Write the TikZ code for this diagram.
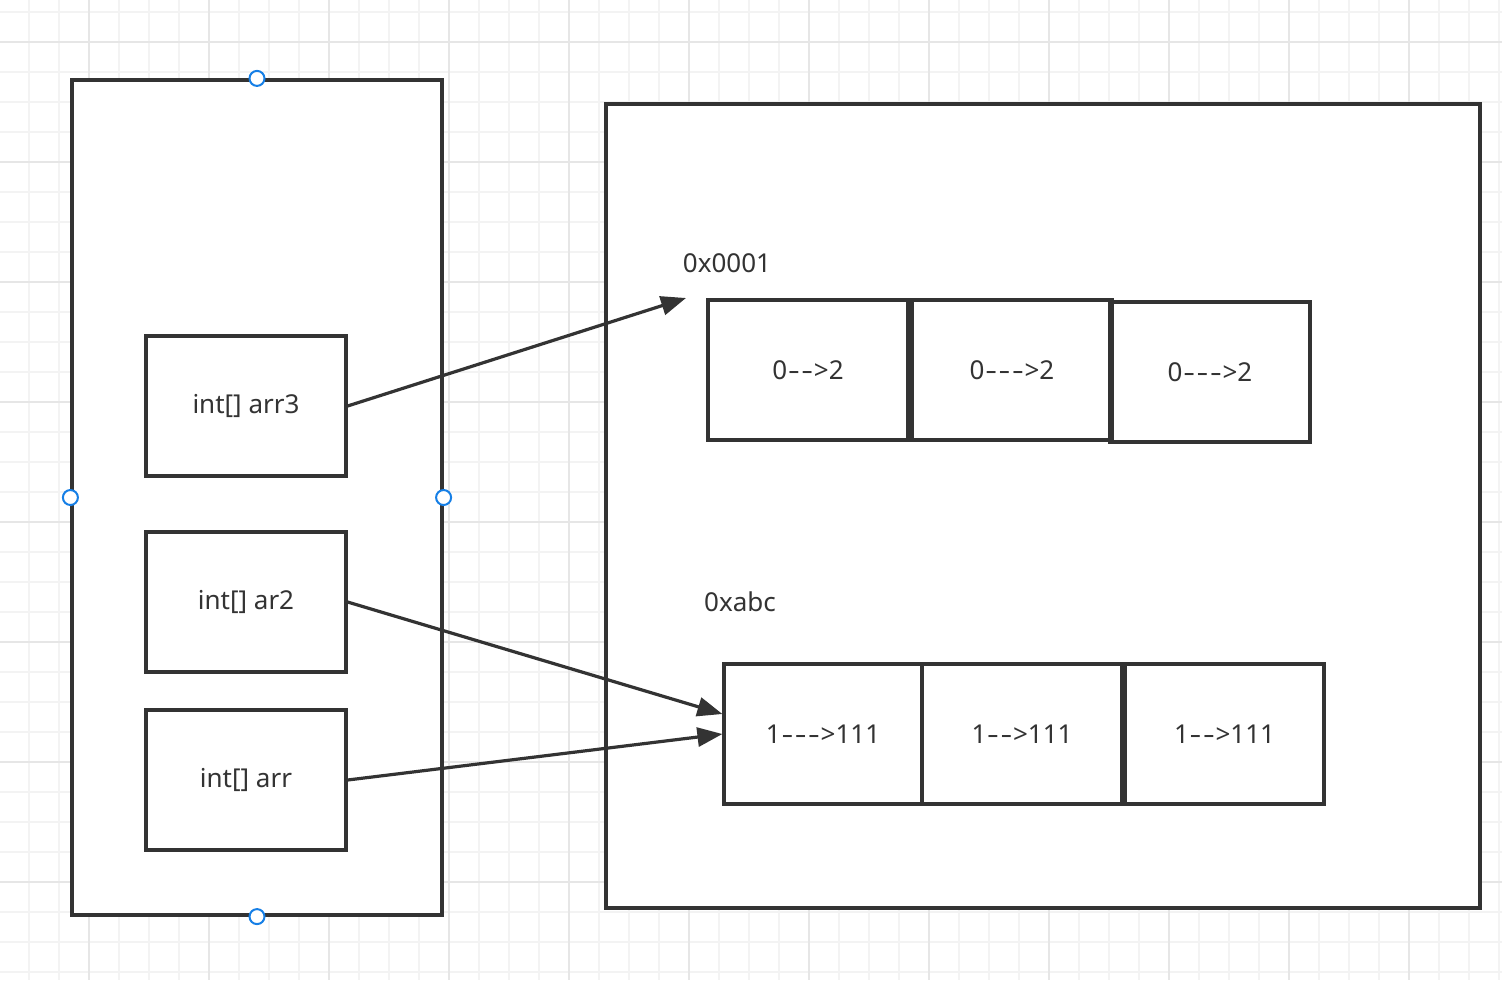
\documentclass[tikz,border=0pt]{standalone}
\usepackage{fontspec}
\setmainfont{Noto Sans}
\usetikzlibrary{arrows.meta}
\definecolor{ink}{HTML}{333333}
\definecolor{gridminor}{HTML}{F3F3F3}
\definecolor{gridmajor}{HTML}{E6E6E6}
\definecolor{handle}{RGB}{22,127,230}
\newcommand\hy{\kern0.4pt\scalebox{1.4}[1]{-}\kern0.4pt}
\tikzset{
  frame/.style={draw=ink, line width=1.6pt, inner sep=0pt, fill=white},
  cell/.style={draw=ink, line width=1.6pt, inner sep=0pt, minimum height=70pt, text=ink, font=\fontsize{13pt}{15pt}\selectfont},
  lbl/.style={inner sep=0pt, text=ink, font=\fontsize{13pt}{15pt}\selectfont},
  link/.style={draw=ink, line width=1.6pt, -{Triangle[length=12.5pt,width=9.5pt]}},
  handlept/.style={circle, draw=handle, fill=white, line width=1pt, minimum size=7.5pt, inner sep=0pt}
}
\begin{document}
\begin{tikzpicture}[x=0.5pt,y=-0.5pt]
\useasboundingbox (0,0) rectangle (1502,980);
\fill[white] (0,0) rectangle (1502,980);
% grid
\foreach \gx in {29,59,...,1500} \draw[gridminor, line width=1pt] (\gx,0) -- (\gx,980);
\foreach \gy in {12,42,...,980} \draw[gridminor, line width=1pt] (0,\gy) -- (1502,\gy);
\foreach \gx in {89,209,...,1500} \draw[gridmajor, line width=1pt] (\gx,0) -- (\gx,980);
\foreach \gy in {42,162,...,980} \draw[gridmajor, line width=1pt] (0,\gy) -- (1502,\gy);
% containers
\node[frame, minimum width=185pt, minimum height=417.5pt] (stack) at (257,497.5) {};
\node[frame, minimum width=437pt, minimum height=402pt] (heap) at (1043,506) {};
% stack cells
\node[cell, minimum width=100pt] (arr3) at (246,406) {int[] arr3};
\node[cell, minimum width=100pt] (ar2) at (246,602) {int[] ar2};
\node[cell, minimum width=100pt] (arr) at (246,780) {int[] arr};
% heap arrays
\node[lbl] (addr1) at (727,263) {0x0001};
\node[cell, minimum width=100pt] (t1) at (808,370) {0\hy\hy>2};
\node[cell, minimum width=100pt] (t2) at (1012,370) {0\hy\hy\hy>2};
\node[cell, minimum width=100pt] (t3) at (1210,372) {0\hy\hy\hy>2};
\node[lbl] (addr2) at (740,602) {0xabc};
\node[cell, minimum width=99pt] (b1) at (823,734) {1\hy\hy\hy>111};
\node[cell, minimum width=100pt] (b2) at (1022,734) {1\hy\hy>111};
\node[cell, minimum width=99.5pt] (b3) at (1224.5,734) {1\hy\hy>111};
% connectors
\coordinate (tip1) at (686,298);
\draw[link] (arr3.east) -- (tip1);
\draw[link] (ar2.east) -- ([yshift=10pt]b1.west);
\draw[link] (arr.east) -- (b1.west);
% selection handles
\node[handlept] (h1) at (stack.north) {};
\node[handlept] (h2) at (stack.west) {};
\node[handlept] (h3) at (stack.east) {};
\node[handlept] (h4) at (stack.south) {};
\end{tikzpicture}
\end{document}
